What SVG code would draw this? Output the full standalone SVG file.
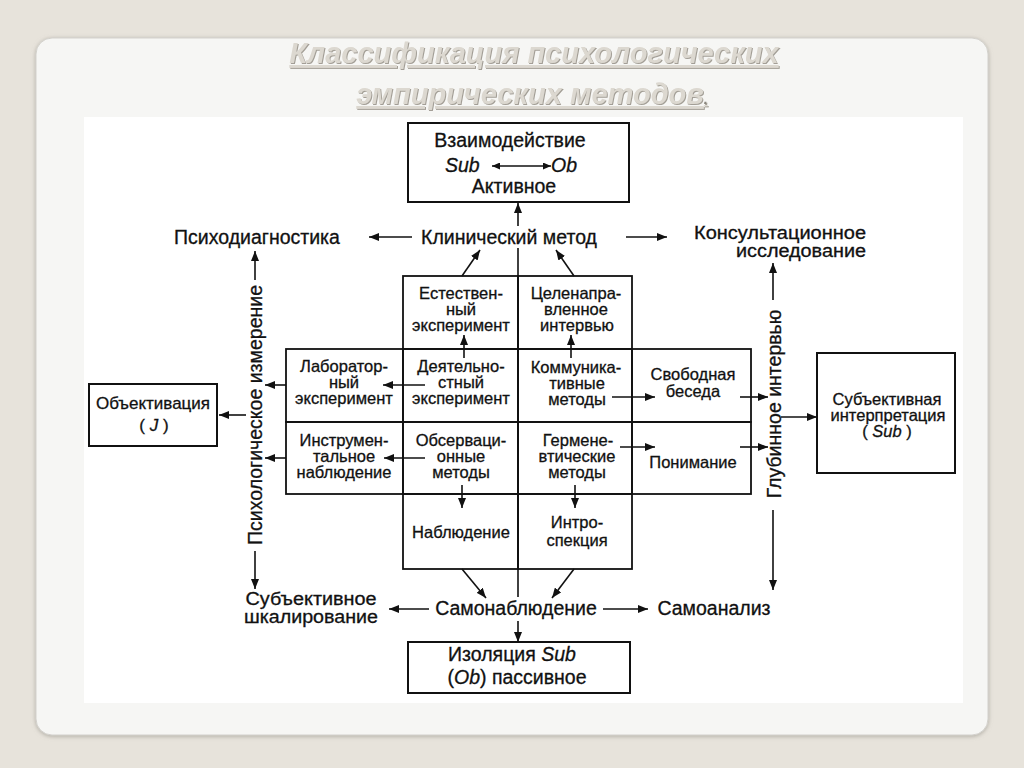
<svg xmlns="http://www.w3.org/2000/svg" width="1024" height="768" viewBox="0 0 1024 768">
<defs>
<marker id="ah" viewBox="0 0 10 8" refX="10" refY="4" markerWidth="10" markerHeight="8" markerUnits="userSpaceOnUse" orient="auto-start-reverse"><path d="M0,0 L10,4 L0,8 z" fill="#111"/></marker>
<marker id="ahs" viewBox="0 0 8 7" refX="8" refY="3.5" markerWidth="8" markerHeight="7" markerUnits="userSpaceOnUse" orient="auto-start-reverse"><path d="M0,0 L8,3.5 L0,7 z" fill="#111"/></marker>
<filter id="psh" x="-5%" y="-5%" width="110%" height="110%"><feDropShadow dx="0" dy="1" stdDeviation="2" flood-color="#8a867e" flood-opacity="0.6"/></filter>
<filter id="tsh" x="-5%" y="-20%" width="110%" height="140%"><feDropShadow dx="1" dy="1" stdDeviation="0.6" flood-color="#9a958b" flood-opacity="0.9"/></filter>
</defs>
<style>
text{font-family:"Liberation Sans",Arial,sans-serif;fill:#111;text-anchor:middle}
.d{stroke:#111;stroke-width:0.3}
.t{font-size:29px;font-weight:bold;font-style:italic;fill:#dcd8d0;text-decoration:underline}
.lbl{font-size:19.5px}
.lb2{font-size:17.5px}
.bx{font-size:19.5px}
.c{font-size:16.5px}
.i{font-style:italic}
.box{fill:#fff;stroke:#111;stroke-width:2}
.cell{fill:none;stroke:#111;stroke-width:1.8}
.ln{fill:none;stroke:#111;stroke-width:1.6}
.ar{fill:none;stroke:#111;stroke-width:1.6;marker-end:url(#ah)}
</style>
<rect width="1024" height="768" fill="#e7e3db"/>
<rect x="36" y="38" width="952" height="697" rx="16" fill="#f6f6f4" stroke="#d3d1cc" filter="url(#psh)"/>
<rect x="84" y="117" width="879" height="586" fill="#fff"/>
<g id="title" filter="url(#tsh)">
<text class="t" x="534" y="63">Классификация психологических</text>
<text class="t" x="532" y="104">эмпирических методов<tspan style="text-decoration:none;font-size:14px;fill:#8a867e">.</tspan></text>
</g>
<g class="d">
<g id="n-top"><rect class="box" x="408" y="123" width="221" height="79"/>
<text class="bx" x="510" y="147">Взаимодействие</text>
<text class="bx i" x="445" y="172" style="text-anchor:start">Sub</text>
<line class="ln" x1="492" y1="166" x2="551" y2="166" marker-start="url(#ahs)" marker-end="url(#ahs)"/>
<text class="bx i" x="551" y="172" style="text-anchor:start">Ob</text>
<text class="bx" x="514" y="193">Активное</text></g>
<g id="n-bottom"><rect class="box" x="408" y="642" width="222" height="51"/>
<text class="bx" x="512" y="661">Изоляция <tspan class="i">Sub</tspan></text>
<text class="bx" x="517" y="684">(<tspan class="i">Ob</tspan>) пассивное</text></g>
<g id="n-objective"><rect class="box" x="89" y="384" width="128" height="62"/>
<text class="c" x="153" y="409" style="font-size:17px">Объективация</text>
<text class="c" x="154" y="431" style="font-size:17px">( <tspan class="i">J</tspan> )</text></g>
<g id="n-subjective"><rect class="box" x="817" y="353" width="138" height="120"/>
<text class="c" x="887" y="405">Субъективная</text>
<text class="c" x="888" y="421">интерпретация</text>
<text class="c" x="887" y="437">( <tspan class="i">Sub</tspan> )</text></g>
<g id="n-psychodiag"><text class="lbl" x="257" y="244">Психодиагностика</text></g>
<g id="n-clinic"><text class="lbl" x="509" y="244">Клинический метод</text></g>
<g id="n-consult"><text class="lb2" x="866" y="239" style="text-anchor:end" textLength="172" lengthAdjust="spacingAndGlyphs">Консультационное</text>
<text class="lb2" x="866" y="257" style="text-anchor:end" textLength="130" lengthAdjust="spacingAndGlyphs">исследование</text></g>
<g id="n-scaling"><text class="lb2" x="311" y="605" textLength="131" lengthAdjust="spacingAndGlyphs">Субъективное</text>
<text class="lb2" x="311" y="623" textLength="134" lengthAdjust="spacingAndGlyphs">шкалирование</text></g>
<g id="n-selfobs"><text class="lbl" x="516" y="615">Самонаблюдение</text></g>
<g id="n-selfanal"><text class="lbl" x="714" y="615">Самоанализ</text></g>
<g id="n-measure"><text class="lbl" transform="translate(255,415) rotate(-90)" y="7">Психологическое измерение</text></g>
<g id="n-depth"><text class="lbl" transform="translate(774,404) rotate(-90)" y="7">Глубинное интервью</text></g>
<g id="n-natural"><rect class="cell" x="403" y="276" width="115" height="73"/>
<text class="c" x="461" y="299">Естествен-</text><text class="c" x="461" y="315">ный</text><text class="c" x="461" y="331">эксперимент</text></g>
<g id="n-targeted"><rect class="cell" x="518" y="276" width="114" height="73"/>
<text class="c" x="576" y="299">Целенапра-</text><text class="c" x="576" y="315">вленное</text><text class="c" x="577" y="331">интервью</text></g>
<g id="n-lab"><rect class="cell" x="286" y="349" width="117" height="73"/>
<text class="c" x="344" y="372">Лаборатор-</text><text class="c" x="344" y="388">ный</text><text class="c" x="344" y="404">эксперимент</text></g>
<g id="n-activity"><rect class="cell" x="403" y="349" width="115" height="73"/>
<text class="c" x="461" y="372">Деятельно-</text><text class="c" x="461" y="388">стный</text><text class="c" x="461" y="404">эксперимент</text></g>
<g id="n-commun"><rect class="cell" x="518" y="349" width="114" height="73"/>
<text class="c" x="576" y="373">Коммуника-</text><text class="c" x="577" y="389">тивные</text><text class="c" x="577" y="405">методы</text></g>
<g id="n-free"><rect class="cell" x="632" y="349" width="119" height="73"/>
<text class="c" x="693" y="380">Свободная</text><text class="c" x="693" y="397">беседа</text></g>
<g id="n-instr"><rect class="cell" x="286" y="422" width="117" height="72"/>
<text class="c" x="344" y="446">Инструмен-</text><text class="c" x="344" y="462">тальное</text><text class="c" x="344" y="478">наблюдение</text></g>
<g id="n-observ"><rect class="cell" x="403" y="422" width="115" height="72"/>
<text class="c" x="461" y="446">Обсерваци-</text><text class="c" x="461" y="462">онные</text><text class="c" x="461" y="478">методы</text></g>
<g id="n-hermen"><rect class="cell" x="518" y="422" width="114" height="72"/>
<text class="c" x="578" y="446">Гермене-</text><text class="c" x="577" y="462">втические</text><text class="c" x="577" y="478">методы</text></g>
<g id="n-understand"><rect class="cell" x="632" y="422" width="119" height="72"/>
<text class="c" x="693" y="468">Понимание</text></g>
<g id="n-observation"><rect class="cell" x="403" y="494" width="115" height="75"/>
<text class="c" x="461" y="538">Наблюдение</text></g>
<g id="n-introsp"><rect class="cell" x="518" y="494" width="114" height="75"/>
<text class="c" x="577" y="528">Интро-</text><text class="c" x="577" y="546">спекция</text></g>
</g>
<g id="connectors">
<path class="ar" d="M518,226 V203"/>
<path class="ln" d="M518,248 V597"/>
<path class="ar" d="M518,621 V642"/>
<path class="ar" d="M412,237 H369"/>
<path class="ar" d="M626,237 H667"/>
<path class="ar" d="M429,609 H389"/>
<path class="ar" d="M603,609 H648"/>
<path class="ar" d="M255,280 V251"/>
<path class="ar" d="M255,551 V589"/>
<path class="ar" d="M773,300 V263"/>
<path class="ar" d="M773,510 V590"/>
<path class="ar" d="M246,415 H219"/>
<path class="ar" d="M781,417 H817"/>
<path class="ar" d="M286,385 H265"/>
<path class="ar" d="M286,458 H265"/>
<path class="ar" d="M740,397 H768"/>
<path class="ar" d="M740,447 H768"/>
<path class="ar" d="M425,385 H383"/>
<path class="ar" d="M425,458 H384"/>
<path class="ar" d="M612,397 H655"/>
<path class="ar" d="M620,447 H655"/>
<path class="ar" d="M464,358 V335"/>
<path class="ar" d="M571,358 V335"/>
<path class="ar" d="M462,485 V508"/>
<path class="ar" d="M575,485 V508"/>
<path class="ar" d="M462,276 L480,250"/>
<path class="ar" d="M574,276 L556,250"/>
<path class="ar" d="M462,569 L486,598"/>
<path class="ar" d="M574,569 L552,598"/>
</g>
</svg>
